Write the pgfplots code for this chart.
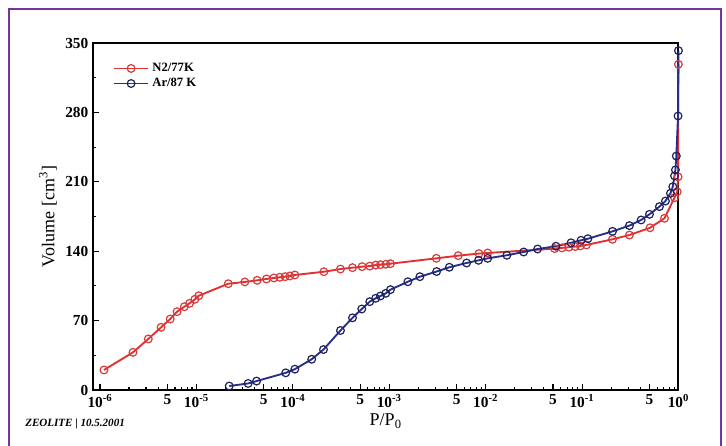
\documentclass[border=0pt]{standalone}
\usepackage{pgfplots}
\pgfplotsset{compat=1.18}
\usepackage{fontspec}
\setmainfont{Liberation Serif}
\definecolor{nred}{RGB}{226,48,48}
\definecolor{nredm}{RGB}{215,60,60}
\definecolor{ablue}{RGB}{38,48,140}
\definecolor{abluem}{RGB}{30,34,90}
\definecolor{framec}{RGB}{118,52,160}
\pgfplotstableread{
x y
1.10e-6 20.2
2.2e-6 38
3.17e-6 51.5
4.3e-6 63.2
5.35e-6 71.6
6.3e-6 79
7.5e-6 84
8.5e-6 87.4
9.65e-6 91.5
1.06e-5 95.1
2.14e-5 107.2
3.18e-5 109
4.27e-5 110.6
5.33e-5 112
6.35e-5 113
7.33e-5 113.7
8.32e-5 114.3
9.31e-5 115
1.05e-4 116
2.10e-4 119.3
3.12e-4 122
4.16e-4 123.4
5.23e-4 124.4
6.28e-4 125
7.24e-4 126
8.10e-4 126.4
9.21e-4 126.8
1.03e-3 127.4
3.08e-3 132.8
5.19e-3 135.5
8.53e-3 137.6
1.05e-2 138.2
5.2e-2 142.6
6.2e-2 143.3
7.3e-2 144
8.5e-2 144.7
9.6e-2 145.3
0.111 146.3
0.207 152
0.31 156.3
0.507 163.6
0.716 173.2
0.91 194
0.97 200
0.99 215
0.998 328.5
}\redtable
\pgfplotstableread{
x y
2.19e-5 4.0
3.44e-5 6.6
4.21e-5 9.0
8.45e-5 17.3
1.05e-4 21
1.57e-4 31
2.08e-4 40.8
3.12e-4 60
4.16e-4 72.8
5.19e-4 81.7
6.28e-4 89.1
7.24e-4 92.5
8.10e-4 94.8
9.21e-4 97.5
1.03e-3 101.2
1.56e-3 109.2
2.08e-3 114.3
3.10e-3 119.5
4.20e-3 123.8
6.35e-3 128.1
8.45e-3 130.8
1.05e-2 132.8
1.66e-2 135.9
2.48e-2 139.2
3.46e-2 142.2
5.36e-2 145
7.69e-2 148.5
9.77e-2 151
0.115 152.6
0.207 160
0.31 165.8
0.41 171.5
0.50 177.2
0.635 185
0.733 190.6
0.826 198.4
0.873 205
0.91 216
0.93 222
0.95 236
0.99 276.4
1.0 342.3
}\bluetable
\begin{document}
\begin{tikzpicture}
\path[use as bounding box, fill=white] (0pt,0pt) rectangle (544.5pt,334.5pt);
\draw[framec, line width=1.3pt] (6.75pt,0pt) -- (6.75pt,327.75pt) -- (540.75pt,327.75pt) -- (540.75pt,0pt);
\node[anchor=west, inner sep=0pt, font=\fontsize{8.3}{9}\selectfont\bfseries\itshape] at (18.75pt,16.5pt) {ZEOLITE | 10.5.2001};
\begin{axis}[
  at={(69.75pt,42pt)}, anchor=south west,
  scale only axis, width=439.1pt, height=260.25pt,
  xmode=log, xmin=8.46e-7, xmax=1,
  ymin=0, ymax=350,
  clip=false,
  axis line style={line width=1.5pt},
  tick pos=left,
  tick align=inside,
  major tick length=4.5pt, minor tick length=2.5pt,
  every tick/.style={black, line width=0.8pt},
  xtick={1e-6,5e-6,1e-5,5e-5,1e-4,5e-4,1e-3,5e-3,1e-2,5e-2,1e-1,5e-1,1},
  xticklabels={10\textsuperscript{-6},5,10\textsuperscript{-5},5,10\textsuperscript{-4},5,10\textsuperscript{-3},5,10\textsuperscript{-2},5,10\textsuperscript{-1},5,10\textsuperscript{0}},
  minor xtick={2e-6,3e-6,4e-6,6e-6,7e-6,8e-6,9e-6,2e-5,3e-5,4e-5,6e-5,7e-5,8e-5,9e-5,2e-4,3e-4,4e-4,6e-4,7e-4,8e-4,9e-4,2e-3,3e-3,4e-3,6e-3,7e-3,8e-3,9e-3,2e-2,3e-2,4e-2,6e-2,7e-2,8e-2,9e-2,2e-1,3e-1,4e-1,6e-1,7e-1,8e-1,9e-1},
  ytick={0,70,140,210,280,350},
  yticklabels={0,70,140,210,280,350},
  minor ytick={35,105,175,245,315},
  ticklabel style={font=\fontsize{11.5}{13}\selectfont\bfseries},
  xlabel={P/P\textsubscript{0}},
  ylabel={Volume [cm\textsuperscript{3}]},
  label style={font=\fontsize{13.5}{15}\selectfont},
  xlabel style={at={(axis description cs:0.5,-0.089)}, anchor=center},
  ylabel style={at={(axis description cs:-0.077,0.5)}, anchor=center},
  legend style={at={(axis description cs:0.034,0.952)}, anchor=north west, draw=none, fill=none,
    font=\fontsize{9.5}{11}\selectfont\bfseries, row sep=-1.5pt, inner sep=0pt,
    nodes={inner sep=2.5pt}},
  legend cell align=left,
  legend image code/.code={\draw[mark repeat=2,mark phase=2] plot coordinates {(0pt,0pt)(12.75pt,0pt)(25.5pt,0pt)};},
]
\addplot[nred, line width=1.4pt, mark=o, mark size=2.9pt,
  mark options={draw=nredm, fill=white, line width=0.9pt}] table {\redtable};
\addlegendentry{N2/77K}
\addplot[ablue, line width=1.4pt, mark=o, mark size=2.9pt,
  mark options={draw=abluem, fill=white, line width=0.9pt}] table {\bluetable};
\addlegendentry{Ar/87 K}
\end{axis}
\end{tikzpicture}
\end{document}
